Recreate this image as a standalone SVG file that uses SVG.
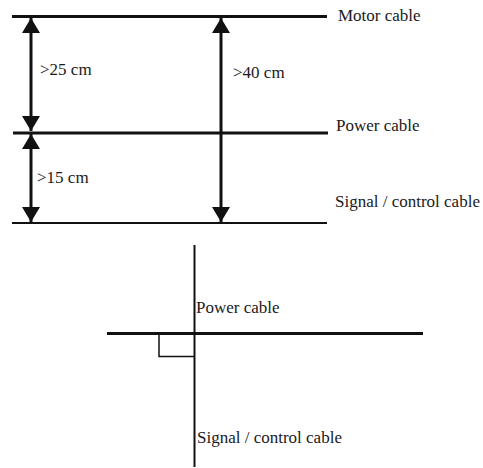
<svg xmlns="http://www.w3.org/2000/svg" width="483" height="468" viewBox="0 0 483 468">
<defs>
<style>
.lbl{font-family:'Liberation Serif','DejaVu Serif',serif;font-size:17px;fill:#1a1a1a}
.cab{stroke:#111;fill:none}
.dim{stroke:#111;stroke-width:3;fill:none;marker-start:url(#ah);marker-end:url(#ah)}
</style>
<marker id="ah" viewBox="0 0 15 18" refX="15" refY="9" markerWidth="15" markerHeight="18" markerUnits="userSpaceOnUse" orient="auto-start-reverse">
<path d="M0,0 L15,9 L0,18 z" fill="#111"/>
</marker>
</defs>
<rect width="483" height="468" fill="#fff"/>
<g id="motor-cable">
<line class="cab" x1="12" y1="16.5" x2="327" y2="16.5" stroke-width="3"/>
<text class="lbl" x="338" y="21">Motor cable</text>
</g>
<g id="power-cable">
<line class="cab" x1="13" y1="133" x2="328" y2="133" stroke-width="3"/>
<text class="lbl" x="336" y="131">Power cable</text>
</g>
<g id="signal-cable">
<line class="cab" x1="12" y1="223" x2="327" y2="223" stroke-width="2"/>
<text class="lbl" x="335" y="207">Signal / control cable</text>
</g>
<g id="cross-power">
<line class="cab" x1="107" y1="333.5" x2="423" y2="333.5" stroke-width="3"/>
<text class="lbl" x="196" y="313">Power cable</text>
</g>
<g id="cross-signal">
<line class="cab" x1="194.5" y1="245" x2="194.5" y2="467" stroke-width="2"/>
<text class="lbl" x="197" y="443">Signal / control cable</text>
</g>
<g id="connectors">
<line class="dim" x1="31" y1="18" x2="31" y2="131"/>
<line class="dim" x1="31" y1="134" x2="31" y2="222"/>
<line class="dim" x1="221" y1="18" x2="221" y2="222"/>
<polyline class="cab" points="159,333.5 159,356.5 194.5,356.5" stroke-width="1.5"/>
</g>
<g id="dim-labels">
<text class="lbl" x="40" y="75">&gt;25 cm</text>
<text class="lbl" x="37" y="183">&gt;15 cm</text>
<text class="lbl" x="233" y="78">&gt;40 cm</text>
</g>
</svg>
